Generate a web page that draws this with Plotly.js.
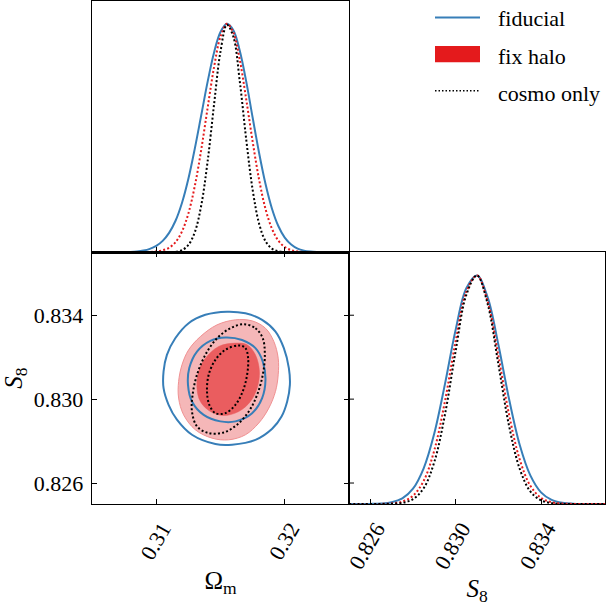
<!DOCTYPE html>
<html>
<head>
<meta charset="utf-8">
<script src="https://cdn.plot.ly/plotly-3.0.1.min.js"></script>
<style>html,body{margin:0;padding:0;background:#fff;}#plot{width:606px;height:606px;}</style>
</head>
<body>
<div id="plot"></div>
<script>
// ---- 1D marginal: Omega_m ----
var omX = [0.305,0.306,0.307,0.3075,0.308,0.3085,0.309,0.3095,0.310,0.3105,0.311,0.3115,0.312,0.3125,0.313,0.3135,0.314,0.3145,0.315,0.3155,0.316,0.3165,0.317,0.3175,0.318,0.3185,0.319,0.3195,0.320,0.3205,0.321,0.3215,0.322,0.3225,0.323,0.3235,0.324,0.325];
var omFid = [0,0.0001,0.0003,0.0006,0.0015,0.0035,0.0075,0.015,0.028,0.050,0.085,0.138,0.216,0.322,0.454,0.600,0.747,0.875,0.964,1.000,0.972,0.882,0.748,0.590,0.436,0.300,0.192,0.115,0.064,0.034,0.016,0.0074,0.0031,0.0012,0.0005,0.0002,0.0001,0];
var omHalo = [0,0,0,0,0,0.0002,0.0006,0.0015,0.004,0.009,0.020,0.044,0.091,0.170,0.290,0.449,0.633,0.811,0.944,1.000,0.962,0.842,0.670,0.485,0.319,0.190,0.104,0.051,0.023,0.0094,0.0035,0.0012,0.0004,0.0001,0,0,0,0];
var omCosmo = [0,0,0,0,0,0,0,0,0,0.0001,0.0005,0.0024,0.0095,0.032,0.088,0.205,0.399,0.648,0.879,0.996,0.944,0.748,0.495,0.274,0.126,0.049,0.016,0.0042,0.001,0.0002,0,0,0,0,0,0,0,0];

// ---- 1D marginal: S8 ----
var s8X = [0.825,0.8255,0.826,0.8265,0.827,0.8275,0.828,0.8285,0.829,0.8295,0.830,0.8305,0.831,0.8315,0.832,0.8325,0.833,0.8335,0.834,0.8345,0.835,0.8355,0.836,0.8365,0.837];
var s8Fid = [0,0.0001,0.0005,0.0021,0.0077,0.0246,0.067,0.156,0.309,0.525,0.762,0.943,0.999,0.903,0.697,0.460,0.259,0.125,0.051,0.018,0.0054,0.0014,0.0003,0.0001,0];
var s8Halo = [0,0,0.0001,0.0005,0.0026,0.0105,0.036,0.101,0.235,0.450,0.712,0.928,0.999,0.886,0.649,0.392,0.195,0.080,0.027,0.0076,0.0018,0.0004,0.0001,0,0];
var s8Cosmo = [0,0,0,0.0001,0.001,0.005,0.021,0.069,0.184,0.392,0.669,0.914,0.999,0.874,0.612,0.343,0.154,0.055,0.016,0.0037,0.0007,0.0001,0,0,0];

// ---- 2D contours (Omega_m, S8) ----
var fidOuterX = [0.31551,0.31694,0.31824,0.31928,0.31993,0.32032,0.32040,0.32019,0.31975,0.31902,0.31772,0.31590,0.31460,0.31278,0.31161,0.31096,0.31057,0.31057,0.31083,0.31148,0.31252,0.31382,0.31551];
var fidOuterY = [0.83417,0.83409,0.83378,0.83322,0.83243,0.83148,0.83068,0.82989,0.82917,0.82859,0.82806,0.82783,0.82786,0.82830,0.82902,0.82973,0.83052,0.83132,0.83211,0.83290,0.83362,0.83402,0.83417];
var fidInnerX = [0.31538,0.31668,0.31772,0.31829,0.31850,0.31824,0.31746,0.31616,0.31499,0.31369,0.31278,0.31247,0.31257,0.31317,0.31421,0.31538];
var fidInnerY = [0.83294,0.83282,0.83243,0.83179,0.83092,0.83005,0.82933,0.82894,0.82894,0.82925,0.82989,0.83068,0.83148,0.83227,0.83278,0.83294];
var haloOuterX = [0.31616,0.31746,0.31850,0.31915,0.31949,0.31949,0.31928,0.31876,0.31798,0.31694,0.31564,0.31434,0.31304,0.31213,0.31174,0.31174,0.31200,0.31252,0.31343,0.31473,0.31616];
var haloOuterY = [0.83378,0.83373,0.83338,0.83275,0.83195,0.83116,0.83037,0.82957,0.82886,0.82830,0.82806,0.82814,0.82854,0.82925,0.83005,0.83084,0.83163,0.83235,0.83298,0.83354,0.83378];
var haloInnerX = [0.31616,0.31707,0.31772,0.31803,0.31785,0.31733,0.31642,0.31525,0.31421,0.31343,0.31317,0.31330,0.31382,0.31486,0.31616];
var haloInnerY = [0.83267,0.83259,0.83211,0.83132,0.83052,0.82989,0.82941,0.82922,0.82941,0.82989,0.83052,0.83132,0.83195,0.83251,0.83267];
var cosmoOuterX = [0.31681,0.31772,0.31829,0.31845,0.31829,0.31785,0.31720,0.31629,0.31525,0.31408,0.31317,0.31278,0.31283,0.31317,0.31382,0.31473,0.31577,0.31681];
var cosmoOuterY = [0.83357,0.83338,0.83290,0.83211,0.83116,0.83021,0.82941,0.82878,0.82841,0.82838,0.82870,0.82941,0.83021,0.83116,0.83211,0.83290,0.83338,0.83357];
var cosmoInnerX = [0.31642,0.31694,0.31715,0.31707,0.31673,0.31616,0.31538,0.31460,0.31413,0.31395,0.31408,0.31460,0.31538,0.31642];
var cosmoInnerY = [0.83256,0.83243,0.83195,0.83116,0.83037,0.82973,0.82933,0.82933,0.82973,0.83037,0.83116,0.83187,0.83235,0.83256];

// ---- ticks / labels ----
var omTicks = [0.31, 0.32];
var omTickText = ['0.31', '0.32'];
var s8Ticks = [0.826, 0.830, 0.834];
var s8TickText = ['0.826', '0.830', '0.834'];
var seriesNames = ['fiducial', 'fix halo', 'cosmo only'];

var BLUE = '#377eb8', RED = '#e41a1c', BLACK = '#000000';
var DOT = '2px,2.2px';
var FONT = 'Liberation Serif, Times New Roman, serif';

function line1D(x, y, xa, ya, color, dash, w) {
  return {x: x, y: y, xaxis: xa, yaxis: ya, type: 'scatter', mode: 'lines',
    line: {color: color, width: w, dash: dash, shape: 'spline', smoothing: 1}, hoverinfo: 'skip', showlegend: false};
}
function contour(x, y, fill, lineColor, lineWidth, dash) {
  var t = {x: x, y: y, xaxis: 'x2', yaxis: 'y2', type: 'scatter', mode: 'lines',
    line: {color: lineColor, width: lineWidth, dash: dash || 'solid', shape: 'spline', smoothing: 1},
    hoverinfo: 'skip', showlegend: false};
  if (fill) { t.fill = 'toself'; t.fillcolor = fill; }
  return t;
}

var data = [
  line1D(omX, omFid, 'x', 'y', BLUE, 'solid', 2),
  line1D(omX, omHalo, 'x', 'y', RED, DOT, 2),
  line1D(omX, omCosmo, 'x', 'y', BLACK, DOT, 2),
  contour(haloOuterX, haloOuterY, 'rgb(245,183,184)', 'rgb(240,145,146)', 1),
  contour(haloInnerX, haloInnerY, 'rgb(234,93,95)', 'rgb(234,93,95)', 0.5),
  contour(fidOuterX, fidOuterY, null, BLUE, 2),
  contour(fidInnerX, fidInnerY, null, BLUE, 2),
  contour(cosmoOuterX, cosmoOuterY, null, BLACK, 2, DOT),
  contour(cosmoInnerX, cosmoInnerY, null, BLACK, 2, DOT),
  line1D(s8X, s8Fid, 'x3', 'y3', BLUE, 'solid', 2),
  line1D(s8X, s8Halo, 'x3', 'y3', RED, DOT, 2),
  line1D(s8X, s8Cosmo, 'x3', 'y3', BLACK, DOT, 2)
];

var W = 606;
var colL = [92/W, 349/W], colR = [349/W, 605/W];
var rowT = [1 - 252.3/W, 1 - 1/W], rowB = [1 - 504/W, 1 - 252.3/W];
var tickFont = {family: FONT, size: 22, color: '#000'};
var common = {showline: true, linecolor: '#000', linewidth: 1.3, showgrid: false, zeroline: false,
  ticks: 'inside', ticklen: 5, tickwidth: 1, tickcolor: '#000', tickfont: tickFont, fixedrange: true};
function ax(o) { var r = {}; for (var k in common) r[k] = common[k]; for (var k2 in o) r[k2] = o[k2]; return r; }

// small inward ticks on the left edge of the S8 1D panel, at the S8 tick values
var shapes = s8Ticks.map(function (v) {
  return {type: 'line', xref: 'paper', yref: 'y2', x0: 349/W, x1: 354/W, y0: v, y1: v, line: {color: '#000', width: 1}};
});
shapes.push(
  {type: 'line', xref: 'paper', yref: 'paper', x0: 435/W, x1: 480/W, y0: 1 - 17.5/W, y1: 1 - 17.5/W, line: {color: BLUE, width: 2}},
  {type: 'rect', xref: 'paper', yref: 'paper', x0: 435/W, x1: 480/W, y0: 1 - 62.3/W, y1: 1 - 46/W, fillcolor: RED, line: {width: 0}},
  {type: 'line', xref: 'paper', yref: 'paper', x0: 435/W, x1: 480/W, y0: 1 - 90.7/W, y1: 1 - 90.7/W, line: {color: BLACK, width: 1.5, dash: '1.5px,2px'}}
);

var layout = {
  width: 606, height: 606, margin: {l: 0, r: 0, t: 0, b: 0},
  paper_bgcolor: '#fff', plot_bgcolor: '#fff', showlegend: false,
  font: {family: FONT, size: 22, color: '#000'},
  xaxis: ax({domain: colL, anchor: 'y', range: [0.305, 0.325], tickmode: 'array', tickvals: omTicks, showticklabels: false, mirror: true}),
  yaxis: ax({domain: rowT, anchor: 'x', range: [0, 1.1], ticks: '', showticklabels: false, mirror: true}),
  xaxis2: ax({domain: colL, anchor: 'y2', range: [0.305, 0.325], tickmode: 'array', tickvals: omTicks, ticktext: omTickText,
    tickangle: -60, mirror: 'ticks', ticklabelshift: 6, ticklabelstandoff: 2,
    title: {text: 'Ω<sub>m</sub>', font: {family: FONT, size: 25}, standoff: 8}}),
  yaxis2: ax({domain: rowB, anchor: 'x2', range: [0.825, 0.837], tickmode: 'array', tickvals: s8Ticks, ticktext: s8TickText,
    mirror: 'ticks', ticklabelstandoff: 3,
    title: {text: '<i>S</i><sub>8</sub>', font: {family: FONT, size: 25}, standoff: 8}}),
  xaxis3: ax({domain: colR, anchor: 'y3', range: [0.825, 0.837], tickmode: 'array', tickvals: s8Ticks, ticktext: s8TickText,
    tickangle: -60, mirror: true, ticklabelshift: 6, ticklabelstandoff: 2,
    title: {text: '<i>S</i><sub>8</sub>', font: {family: FONT, size: 25}, standoff: 8}}),
  yaxis3: ax({domain: rowB, anchor: 'x3', range: [0, 1.1], ticks: '', showticklabels: false, mirror: true}),
  shapes: shapes,
  annotations: [
    {xref: 'paper', yref: 'paper', x: 496/W, y: 1 - 19/W, xanchor: 'left', yanchor: 'middle', text: seriesNames[0], showarrow: false, font: {family: FONT, size: 22}},
    {xref: 'paper', yref: 'paper', x: 496/W, y: 1 - 56/W, xanchor: 'left', yanchor: 'middle', text: seriesNames[1], showarrow: false, font: {family: FONT, size: 22}},
    {xref: 'paper', yref: 'paper', x: 496/W, y: 1 - 93/W, xanchor: 'left', yanchor: 'middle', text: seriesNames[2], showarrow: false, font: {family: FONT, size: 22}}
  ]
};

Plotly.newPlot('plot', data, layout, {staticPlot: true, displayModeBar: false});
</script>
</body>
</html>
